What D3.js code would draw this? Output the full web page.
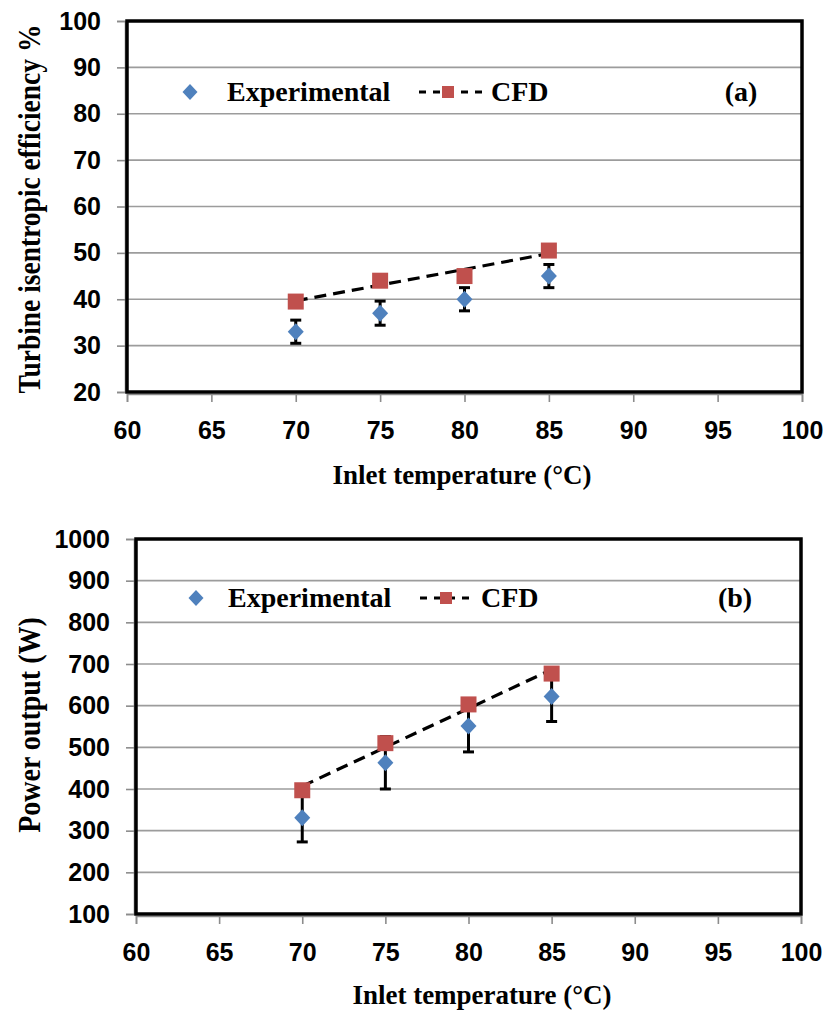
<!DOCTYPE html>
<html>
<head>
<meta charset="utf-8">
<script src="https://cdn.jsdelivr.net/npm/d3@7"></script>
<style>
  body { margin: 0; background: #fff; }
  .tick text { font-family: "Liberation Sans", Arial, sans-serif; font-weight: bold; font-size: 25px; fill: #000; }
  .serif { font-family: "Liberation Serif", "Times New Roman", serif; font-weight: bold; fill: #000; }
</style>
</head>
<body>
<svg id="chart" width="826" height="1012"></svg>
<script>
// data
var temps = [70, 75, 80, 85];
var xTicks = [60, 65, 70, 75, 80, 85, 90, 95, 100];

var effExp = [33, 37, 40, 45];
var effExpErr = [2.5, 2.6, 2.5, 2.5];
var effCfd = [39.5, 44, 45, 50.5];
var effTicks = [20, 30, 40, 50, 60, 70, 80, 90, 100];

var powExp = [331, 463, 551, 622];
var powExpErr = [58, 63, 62, 60];
var powCfd = [397, 510, 603, 677];
var powTicks = [100, 200, 300, 400, 500, 600, 700, 800, 900, 1000];

var blue = "#4f81bd", red = "#c0504d";
var svg = d3.select("#chart");

// least squares line through the CFD points (the chart's dashed trendline)
function fit(xs, ys) {
  var mx = d3.mean(xs), my = d3.mean(ys);
  var num = d3.sum(xs, function(x, i) { return (x - mx) * (ys[i] - my); });
  var den = d3.sum(xs, function(x) { return (x - mx) * (x - mx); });
  var b = num / den;
  return function(x) { return my + b * (x - mx); };
}

function panel(cfg) {
  var x = d3.scaleLinear().domain([60, 100]).range([cfg.left, cfg.right]);
  var y = d3.scaleLinear().domain(cfg.domain).range([cfg.bottom, cfg.top]);
  var g = svg.append("g");

  // gridlines
  g.append("g").selectAll("line")
    .data(cfg.ticks.slice(1, -1))
    .enter().append("line")
      .attr("x1", cfg.left).attr("x2", cfg.right)
      .attr("y1", function(d) { return y(d); })
      .attr("y2", function(d) { return y(d); })
      .attr("stroke", "#9c9c9c")
      .attr("stroke-width", 1.6);

  // y axis
  var ya = g.append("g")
    .attr("transform", "translate(" + (cfg.left - 2) + ",0)")
    .call(d3.axisLeft(y).tickValues(cfg.ticks).tickSize(8).tickPadding(cfg.ypad).tickFormat(d3.format("d")));
  ya.selectAll("path,line").attr("stroke", "#8c8c8c").attr("stroke-width", 1.6);

  // x axis
  var xa = g.append("g")
    .attr("transform", "translate(0," + (cfg.bottom + 2) + ")")
    .call(d3.axisBottom(x).tickValues(xTicks).tickSize(8).tickPadding(19));
  xa.selectAll("path,line").attr("stroke", "#8c8c8c").attr("stroke-width", 1.6);

  // plot border
  g.append("rect")
    .attr("x", cfg.left).attr("y", cfg.top)
    .attr("width", cfg.right - cfg.left).attr("height", cfg.bottom - cfg.top)
    .attr("fill", "none").attr("stroke", "#000").attr("stroke-width", 3.5);

  // trendline
  var f = fit(temps, cfg.cfd);
  g.append("line")
    .attr("x1", x(temps[0])).attr("y1", y(f(temps[0])))
    .attr("x2", x(temps[3])).attr("y2", y(f(temps[3])))
    .attr("stroke", "#000").attr("stroke-width", 3.2)
    .attr("stroke-dasharray", "12,7");

  // error bars
  var eb = g.append("g").selectAll("g")
    .data(temps).enter().append("g");
  eb.append("line")
    .attr("x1", function(d) { return x(d); }).attr("x2", function(d) { return x(d); })
    .attr("y1", function(d, i) { return y(cfg.exp[i] + cfg.err[i]); })
    .attr("y2", function(d, i) { return y(cfg.exp[i] - cfg.err[i]); })
    .attr("stroke", "#000").attr("stroke-width", 3);
  [1, -1].forEach(function(s) {
    eb.append("line")
      .attr("x1", function(d) { return x(d) - 5.5; }).attr("x2", function(d) { return x(d) + 5.5; })
      .attr("y1", function(d, i) { return y(cfg.exp[i] + s * cfg.err[i]); })
      .attr("y2", function(d, i) { return y(cfg.exp[i] + s * cfg.err[i]); })
      .attr("stroke", "#000").attr("stroke-width", 3);
  });

  // CFD squares
  g.append("g").selectAll("rect")
    .data(temps).enter().append("rect")
      .attr("x", function(d) { return x(d) - 8; })
      .attr("y", function(d, i) { return y(cfg.cfd[i]) - 8; })
      .attr("width", 16).attr("height", 16)
      .attr("fill", red);

  // experimental diamonds
  g.append("g").selectAll("path")
    .data(temps).enter().append("path")
      .attr("transform", function(d, i) { return "translate(" + x(d) + "," + y(cfg.exp[i]) + ")"; })
      .attr("d", "M0,-8.5L8,0L0,8.5L-8,0Z")
      .attr("fill", blue);

  // legend
  var L = cfg.legend;
  g.append("path")
    .attr("transform", "translate(" + L.dx + "," + L.y + ")")
    .attr("d", "M0,-8L7.5,0L0,8L-7.5,0Z")
    .attr("fill", blue);
  g.append("text").attr("class", "serif")
    .attr("x", L.tx).attr("y", L.y + 9).attr("font-size", 28)
    .text("Experimental");
  g.append("line")
    .attr("x1", L.l1).attr("x2", L.l2).attr("y1", L.y).attr("y2", L.y)
    .attr("stroke", "#000").attr("stroke-width", 3)
    .attr("stroke-dasharray", "7,7");
  g.append("rect")
    .attr("x", L.sq - 6).attr("y", L.y - 6).attr("width", 12).attr("height", 12)
    .attr("fill", red);
  g.append("text").attr("class", "serif")
    .attr("x", L.cx).attr("y", L.y + 9).attr("font-size", 28)
    .text("CFD");
  g.append("text").attr("class", "serif")
    .attr("x", L.px).attr("y", L.y + 9).attr("font-size", 28)
    .attr("text-anchor", "middle")
    .text(cfg.tag);

  // axis titles
  g.append("text").attr("class", "serif")
    .attr("x", cfg.xtx).attr("y", cfg.xty).attr("font-size", 27)
    .attr("text-anchor", "middle")
    .text("Inlet temperature  (\u00B0C)");
  g.append("text").attr("class", "serif")
    .attr("transform", "translate(" + cfg.ytx + "," + cfg.yty + ") rotate(-90) scale(1,1.12)")
    .attr("font-size", cfg.yfs)
    .attr("text-anchor", "middle")
    .text(cfg.ytitle);
}

panel({
  left: 127, right: 802, top: 21, bottom: 392,
  domain: [20, 100], ticks: effTicks, ypad: 16,
  exp: effExp, err: effExpErr, cfd: effCfd,
  legend: { y: 92, dx: 190, tx: 227, l1: 419, l2: 482, sq: 448, cx: 491, px: 741 },
  tag: "(a)",
  xtx: 462, xty: 484,
  ytx: 40, yty: 209, yfs: 27.5,
  ytitle: "Turbine  isentropic  efficiency %"
});

panel({
  left: 136, right: 801, top: 539, bottom: 914,
  domain: [100, 1000], ticks: powTicks, ypad: 16,
  exp: powExp, err: powExpErr, cfd: powCfd,
  legend: { y: 598, dx: 196, tx: 228, l1: 420, l2: 475, sq: 446, cx: 481, px: 735 },
  tag: "(b)",
  xtx: 482, xty: 1004,
  ytx: 40, yty: 725, yfs: 28,
  ytitle: "Power output  (W)"
});
</script>
</body>
</html>
